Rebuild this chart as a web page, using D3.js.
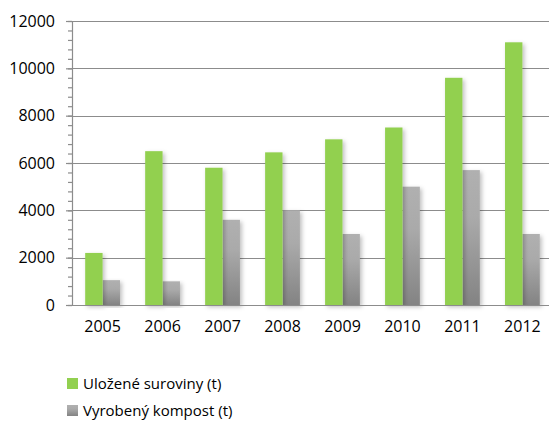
<!DOCTYPE html>
<html>
<head>
<meta charset="utf-8">
<script src="https://cdn.jsdelivr.net/npm/d3@7"></script>
<style>
  body { margin: 0; background: #fff; }
  svg { display: block; }
</style>
</head>
<body>
<script>
// data
const years = ["2005", "2006", "2007", "2008", "2009", "2010", "2011", "2012"];
const ulozene = [2200, 6500, 5800, 6450, 7000, 7500, 9600, 11100];
const kompost = [1050, 1000, 3600, 4000, 3000, 5000, 5700, 3000];
const seriesNames = ["Uložené suroviny (t)", "Vyrobený kompost (t)"];
const yTicks = [0, 2000, 4000, 6000, 8000, 10000, 12000];

const width = 550, height = 421;
const margin = { top: 21, right: 0, bottom: 116, left: 72 };
const font = "'Open Sans', 'Liberation Sans', sans-serif";

const svg = d3.select("body").append("svg")
    .attr("width", width)
    .attr("height", height)
    .attr("font-family", font);

const defs = svg.append("defs");
const grad = defs.append("linearGradient")
    .attr("id", "grayGrad")
    .attr("x1", 0).attr("y1", 0).attr("x2", 0).attr("y2", 1);
grad.append("stop").attr("offset", "0%").attr("stop-color", "#b0b0b0");
grad.append("stop").attr("offset", "35%").attr("stop-color", "#aaaaaa");
grad.append("stop").attr("offset", "100%").attr("stop-color", "#838383");

const shadow = defs.append("filter").attr("id", "shadow")
    .attr("x", "-20%").attr("y", "-5%").attr("width", "160%").attr("height", "115%");
shadow.append("feDropShadow")
    .attr("dx", 2).attr("dy", 2).attr("stdDeviation", 2)
    .attr("flood-color", "#000").attr("flood-opacity", 0.25);

const x = d3.scaleBand()
    .domain(years)
    .range([margin.left, 553])
    .paddingInner(0.42)
    .paddingOuter(0.22);

const x1 = d3.scaleBand()
    .domain([0, 1])
    .range([0, x.bandwidth()]);

const y = d3.scaleLinear()
    .domain([0, 12000])
    .range([height - margin.bottom, margin.top]);

// gridlines
svg.append("g")
  .selectAll("line")
  .data(yTicks.slice(1))
  .join("line")
    .attr("x1", margin.left)
    .attr("x2", 549)
    .attr("y1", d => Math.round(y(d)) + 0.5)
    .attr("y2", d => Math.round(y(d)) + 0.5)
    .attr("stroke", "#8c8c8c")
    .attr("stroke-width", 1.2);

// bars
const groups = svg.append("g")
  .selectAll("g")
  .data(years)
  .join("g")
    .attr("transform", d => `translate(${x(d)},0)`);

groups.append("rect")
    .attr("x", x1(1))
    .attr("y", (d, i) => y(kompost[i]))
    .attr("width", x1.bandwidth())
    .attr("height", (d, i) => y(0) - y(kompost[i]))
    .attr("fill", "url(#grayGrad)")
    .attr("filter", "url(#shadow)");

groups.append("rect")
    .attr("x", x1(0))
    .attr("y", (d, i) => y(ulozene[i]))
    .attr("width", x1.bandwidth())
    .attr("height", (d, i) => y(0) - y(ulozene[i]))
    .attr("fill", "#92d050")
    .attr("filter", "url(#shadow)");

// y axis with minor ticks
const yAxis = svg.append("g")
    .attr("transform", `translate(${margin.left},0)`);
yAxis.call(d3.axisLeft(y).tickValues(d3.range(0, 12001, 400)).tickSize(4).tickFormat(""))
    .call(g => g.select(".domain").remove())
    .call(g => g.selectAll("line").attr("stroke", "#8c8c8c").attr("stroke-width", 1.2));
yAxis.call(g => g.append("g")
    .call(d3.axisLeft(y).tickValues(yTicks).tickSize(6).tickPadding(11).tickFormat(d3.format("d")))
    .call(a => a.select(".domain").remove())
    .call(a => a.selectAll("line").attr("stroke", "#8c8c8c").attr("stroke-width", 1.2))
    .call(a => a.selectAll("text")
        .attr("font-family", font)
        .attr("font-size", 16)
        .attr("fill", "#000")));
yAxis.append("line")
    .attr("x1", 0.5).attr("x2", 0.5)
    .attr("y1", y(12000)).attr("y2", y(0))
    .attr("stroke", "#8c8c8c").attr("stroke-width", 1.2);

// x axis
svg.append("g")
    .attr("transform", `translate(0,${y(0)})`)
    .call(d3.axisBottom(x).tickSize(0).tickPadding(16))
    .call(g => g.select(".domain")
        .attr("d", `M${margin.left - 6},0.5H549`)
        .attr("stroke", "#8c8c8c").attr("stroke-width", 1.2))
    .call(g => g.selectAll("text")
        .attr("font-family", font)
        .attr("font-size", 16)
        .attr("fill", "#000"));

// legend
const legend = svg.append("g")
  .selectAll("g")
  .data(seriesNames)
  .join("g")
    .attr("transform", (d, i) => `translate(67,${378 + i * 27})`);
legend.append("rect")
    .attr("width", 11)
    .attr("height", 11)
    .attr("fill", (d, i) => i === 0 ? "#92d050" : "url(#grayGrad)");
legend.append("text")
    .attr("x", 16)
    .attr("y", 11)
    .attr("font-size", 15)
    .attr("fill", "#000")
    .text(d => d);
</script>
</body>
</html>
